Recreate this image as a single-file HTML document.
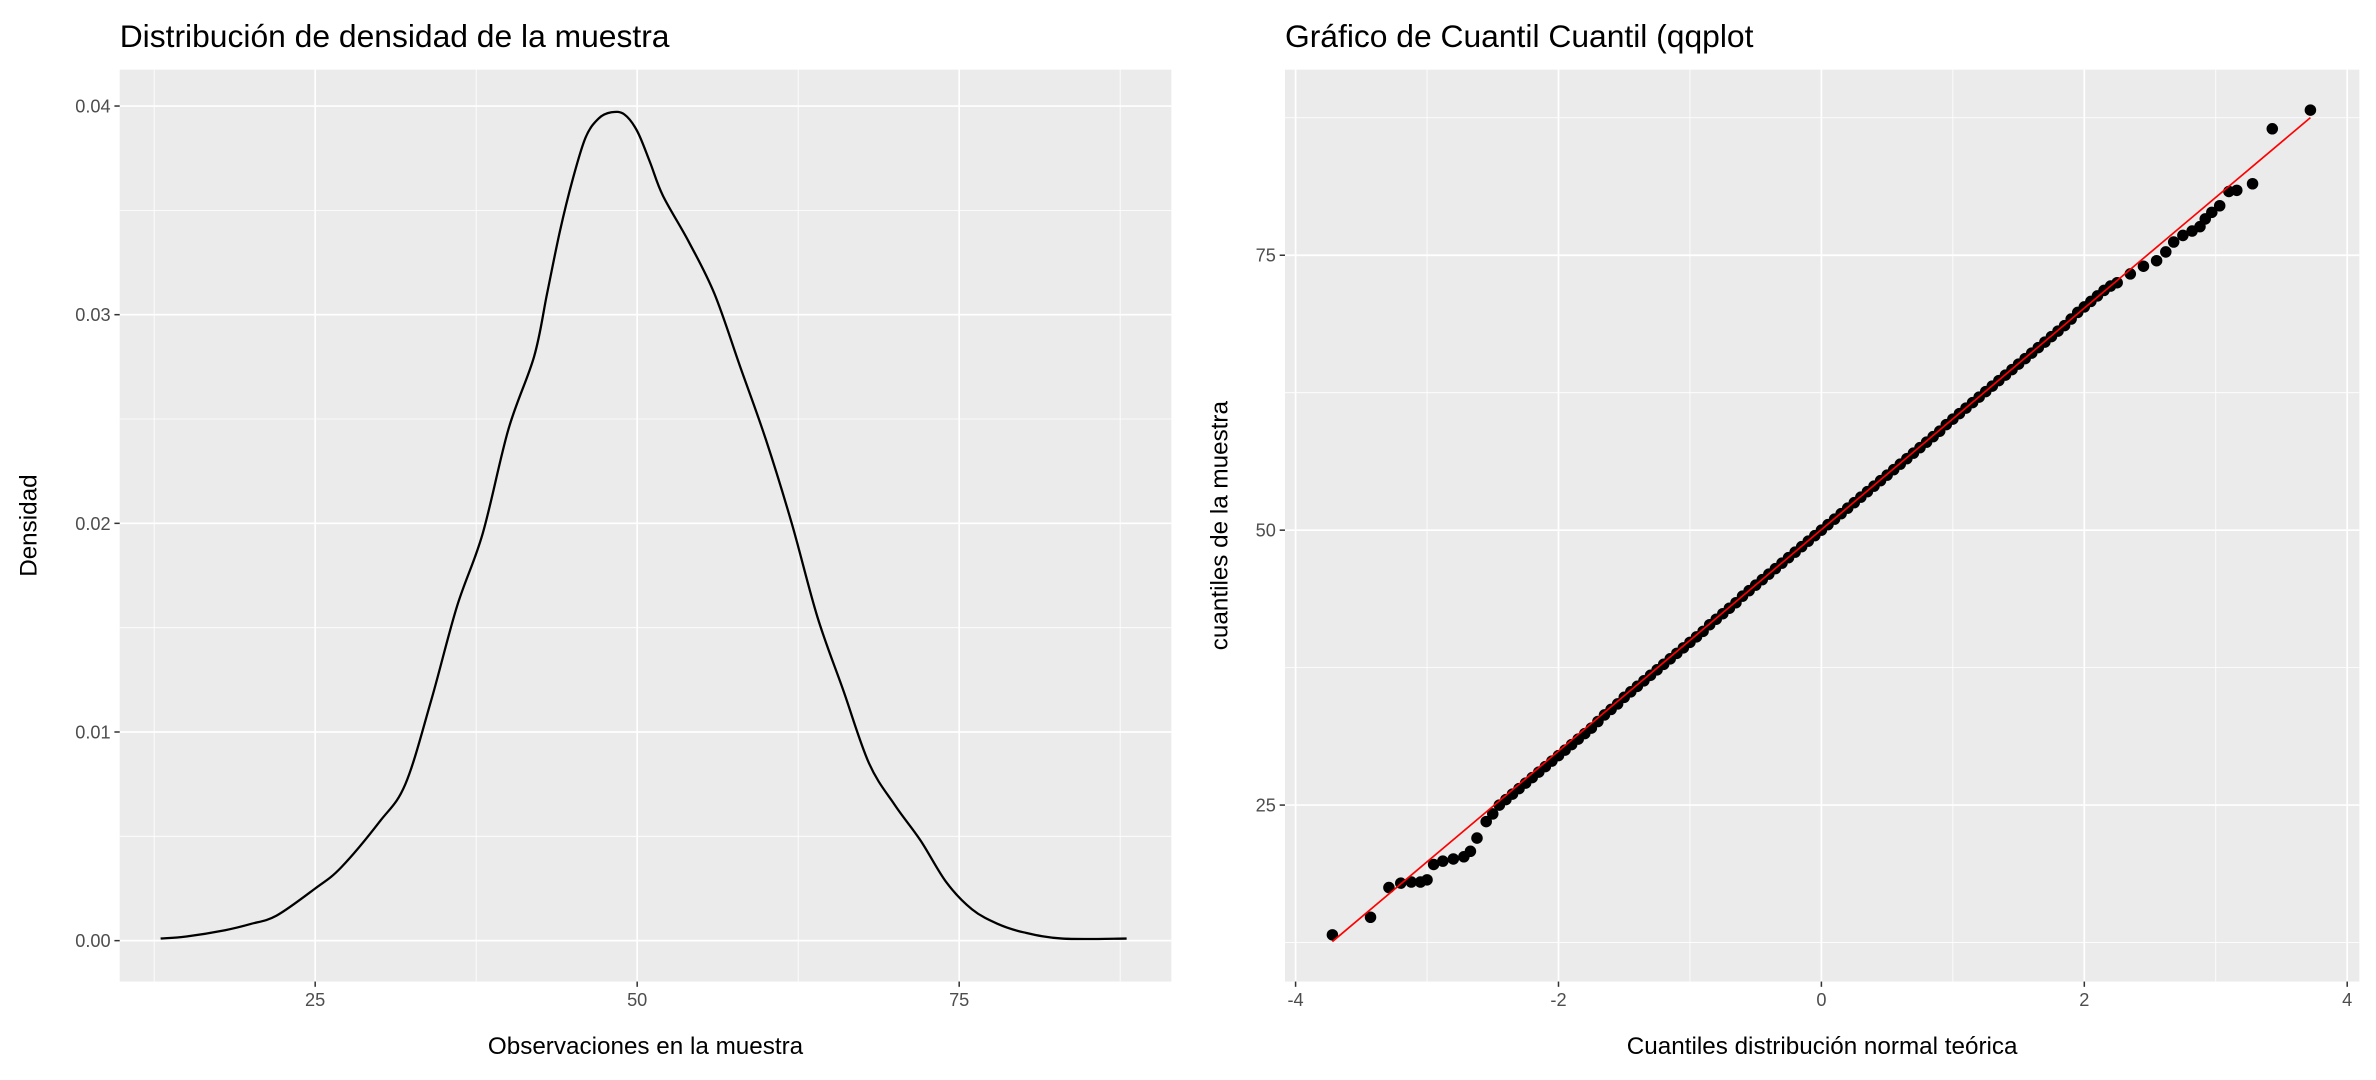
<!DOCTYPE html>
<html><head><meta charset="utf-8"><style>
html,body{margin:0;padding:0;background:#fff;}
svg{display:block;font-family:"Liberation Sans",Arial,sans-serif;}
</style></head><body>
<svg id="root" width="2376" height="1080" viewBox="0 0 1568 713" preserveAspectRatio="none" xmlns="http://www.w3.org/2000/svg">
<rect width="1568" height="713" fill="#fff"/>
<g id="left"></g>
<g id="right"></g>
</svg>
<script>
// ---- density chart data
const densX = [13,15,18,20,22,25,27,30,32,34,36,38,40,42,43,44,45,46,47,48,49,50,51,52,54,56,58,60,62,64,66,68,70,72,74,76,78,80,83,88];
const densY = [0.0001,0.0002,0.0005,0.0008,0.0012,0.0025,0.0035,0.0057,0.0075,0.0115,0.016,0.0195,0.0245,0.028,0.031,0.034,0.0365,0.0385,0.0394,0.0397,0.0396,0.0388,0.0373,0.0357,0.0335,0.031,0.0275,0.024,0.020,0.0155,0.012,0.0085,0.0065,0.0048,0.0028,0.0015,0.0008,0.0004,0.0001,0.0001];
const densXTicks = [25,50,75];
const densYTicks = [0,0.01,0.02,0.03,0.04];
const densYTickLabels = ["0.00","0.01","0.02","0.03","0.04"];
// ---- qq chart data
const qqTheo = [-3.72,-3.43,-3.29,-3.2,-3.12,-3.05,-3.0,-2.95,-2.88,-2.8,-2.72,-2.67,-2.62,-2.55,-2.5,
-2.45,-2.40,-2.35,-2.30,-2.25,-2.20,-2.15,-2.10,-2.05,-2.00,-1.95,-1.90,-1.85,-1.80,-1.75,-1.70,-1.65,-1.60,-1.55,-1.50,-1.45,-1.40,-1.35,-1.30,-1.25,-1.20,-1.15,-1.10,-1.05,-1.00,-0.95,-0.90,-0.85,-0.80,-0.75,-0.70,-0.65,-0.60,-0.55,-0.50,-0.45,-0.40,-0.35,-0.30,-0.25,-0.20,-0.15,-0.10,-0.05,0.00,0.05,0.10,0.15,0.20,0.25,0.30,0.35,0.40,0.45,0.50,0.55,0.60,0.65,0.70,0.75,0.80,0.85,0.90,0.95,1.00,1.05,1.10,1.15,1.20,1.25,1.30,1.35,1.40,1.45,1.50,1.55,1.60,1.65,1.70,1.75,1.80,1.85,1.90,1.95,2.00,2.05,2.10,2.15,2.20,
2.25,2.35,2.45,2.55,2.62,2.68,2.75,2.82,2.88,2.92,2.97,3.03,3.1,3.16,3.28,3.43,3.72];
const qqSample = [13.2,14.8,17.5,17.9,18.0,18.0,18.2,19.6,19.9,20.1,20.3,20.8,22.0,23.5,24.2,
25.0,25.5,26.0,26.5,27.0,27.5,28.0,28.5,29.0,29.5,30.0,30.5,31.0,31.5,32.0,32.6,33.2,33.7,34.2,34.8,35.3,35.8,36.3,36.8,37.3,37.8,38.3,38.8,39.3,39.8,40.3,40.8,41.4,41.9,42.4,42.9,43.4,44.0,44.5,45.0,45.5,46.0,46.5,47.0,47.5,48.0,48.5,49.0,49.5,50.0,50.5,51.0,51.5,52.0,52.5,53.0,53.5,54.0,54.5,55.0,55.5,56.0,56.5,57.0,57.5,58.0,58.5,59.0,59.6,60.1,60.6,61.1,61.6,62.1,62.6,63.1,63.6,64.1,64.6,65.1,65.6,66.1,66.6,67.1,67.6,68.1,68.6,69.2,69.8,70.3,70.8,71.3,71.8,72.2,
72.5,73.3,74.0,74.5,75.3,76.2,76.8,77.2,77.6,78.3,78.9,79.5,80.8,80.9,81.5,86.5,88.2];
const qqLineEnds = [-3.72,3.72];
const qqLineCoef = [50.05,10.07];
const qqXTicks = [-4,-2,0,2,4];
const qqYTicks = [25,50,75];

const NS="http://www.w3.org/2000/svg";
function mk(parent,tag,attrs,text){const e=document.createElementNS(NS,tag);for(const k in attrs)e.setAttribute(k,attrs[k]);if(text!==undefined)e.textContent=text;parent.appendChild(e);return e;}

function panel(g,x0,x1,y0,y1,sx,sy,xMaj,xMin,yMaj,yMin,xLab,yLab,title,xt,yt){
  const bg=mk(g,'rect',{x:x0,y:y0,width:x1-x0,height:y1-y0,fill:'#ebebeb'});
  
  
  xMin.forEach(v=>{const l=mk(g,'line',{x1:sx(v),x2:sx(v),y1:y0,y2:y1,stroke:'#fff','stroke-width':0.55});});
  yMin.forEach(v=>{const l=mk(g,'line',{x1:x0,x2:x1,y1:sy(v),y2:sy(v),stroke:'#fff','stroke-width':0.55});});
  xMaj.forEach((v,i)=>{const l=mk(g,'line',{x1:sx(v),x2:sx(v),y1:y0,y2:y1,stroke:'#fff','stroke-width':1.1});
    const t=mk(g,'line',{x1:sx(v),x2:sx(v),y1:y1,y2:y1+3.5,stroke:'#333','stroke-width':1});
    const tx=mk(g,'text',{x:sx(v),y:y1+16,'font-size':12,fill:'#4d4d4d','text-anchor':'middle'},xt[i]);});
  yMaj.forEach((v,i)=>{const l=mk(g,'line',{x1:x0,x2:x1,y1:sy(v),y2:sy(v),stroke:'#fff','stroke-width':1.1});
    const t=mk(g,'line',{x1:x0-3.5,x2:x0,y1:sy(v),y2:sy(v),stroke:'#333','stroke-width':1});
    const tx=mk(g,'text',{x:x0-6,y:sy(v)+4.3,'font-size':12,fill:'#4d4d4d','text-anchor':'end'},yt[i]);});
  const xl=mk(g,'text',{x:(x0+x1)/2,y:y1+48,'font-size':16,fill:'#000','text-anchor':'middle'},xLab);
  const yx=x0-(yt[0].length>3?55:38);
  const yl=mk(g,'text',{x:yx,y:(y0+y1)/2,'font-size':16,fill:'#000','text-anchor':'middle',transform:`rotate(-90 ${yx} ${(y0+y1)/2})`},yLab);
  const ti=mk(g,'text',{x:x0,y:31,'font-size':21,fill:'#000'},title);
}

// Left
const L=document.getElementById('left');
const lx0=79,lx1=773,ly0=46,ly1=648;
const lsx=v=>-4.5+8.5*v, lsy=v=>621-13775*v;
panel(L,lx0,lx1,ly0,ly1,lsx,lsy,densXTicks,[12.5,37.5,62.5,87.5],densYTicks,[0.005,0.015,0.025,0.035],
  'Observaciones en la muestra','Densidad','Distribución de densidad de la muestra',densXTicks.map(String),densYTickLabels);
const P=densX.map((v,i)=>[lsx(v),lsy(densY[i])]);
let d='M'+P[0][0].toFixed(2)+','+P[0][1].toFixed(2);
for(let i=0;i<P.length-1;i++){
  const p0=P[Math.max(0,i-1)],p1=P[i],p2=P[i+1],p3=P[Math.min(P.length-1,i+2)];
  const c1x=p1[0]+(p2[0]-p0[0])/6,c1y=p1[1]+(p2[1]-p0[1])/6;
  const c2x=p2[0]-(p3[0]-p1[0])/6,c2y=p2[1]-(p3[1]-p1[1])/6;
  d+=`C${c1x.toFixed(2)},${c1y.toFixed(2)} ${c2x.toFixed(2)},${c2y.toFixed(2)} ${p2[0].toFixed(2)},${p2[1].toFixed(2)}`;
}
const dp=mk(L,'path',{d:d,fill:'none',stroke:'#000','stroke-width':1.5,'stroke-linejoin':'round'});



// Right
const R=document.getElementById('right');
const rx0=848,rx1=1557,ry0=46,ry1=648;
const rsx=v=>1202+86.75*v, rsy=v=>350-7.26*(v-50);
panel(R,rx0,rx1,ry0,ry1,rsx,rsy,qqXTicks,[-3,-1,1,3],qqYTicks,[12.5,37.5,62.5,87.5],
  'Cuantiles distribución normal teórica','cuantiles de la muestra','Gráfico de Cuantil Cuantil (qqplot',qqXTicks.map(String),qqYTicks.map(String));
qqTheo.forEach((v,i)=>{
  const c=mk(R,'circle',{cx:rsx(v),cy:rsy(qqSample[i]),r:3.8,fill:'#000'});
  
  
});
const ql=mk(R,'line',{x1:rsx(qqLineEnds[0]),y1:rsy(qqLineCoef[0]+qqLineCoef[1]*qqLineEnds[0]),x2:rsx(qqLineEnds[1]),y2:rsy(qqLineCoef[0]+qqLineCoef[1]*qqLineEnds[1]),stroke:'#ff0000','stroke-width':1.1});


</script>
</body></html>
